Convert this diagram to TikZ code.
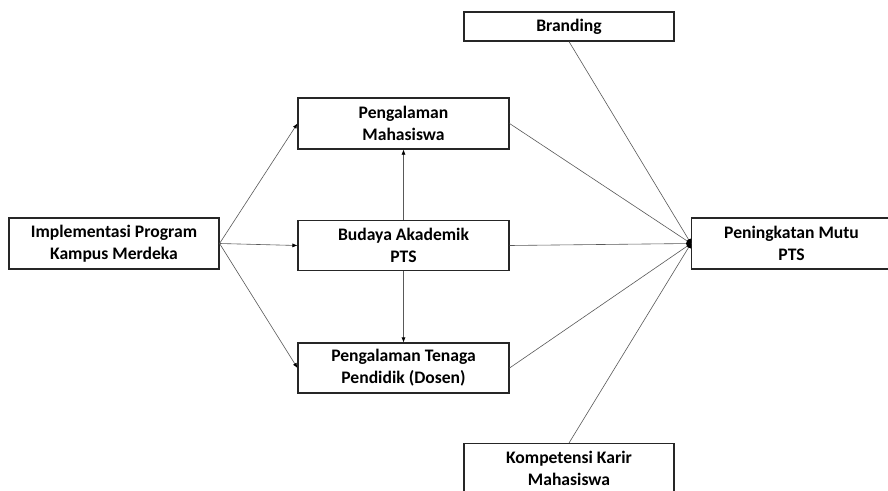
\documentclass[tikz,border=0pt]{standalone}
\usepackage{fontspec}
\setmainfont{Carlito}
\usetikzlibrary{arrows.meta}
\begin{document}
\begin{tikzpicture}[x=1pt,y=-1pt,
  box/.style={draw=black!85,line width=1.1pt,fill=white,inner sep=0pt,
    align=center,font=\bfseries\fontsize{17.6}{22}\selectfont},
  conn/.style={draw=black!65,line width=0.6pt},
  arr/.style={conn,-{Latex[length=5pt,width=4pt,black]}}]
\useasboundingbox (0,0) rectangle (888,490);
\clip (0,0) rectangle (888,490);
\fill[white] (0,0) rectangle (888,490);
\coordinate (hub) at (691,243.5);
\node[box,minimum width=210pt,minimum height=51pt] (imp) at (114,243.5) {Implementasi Program\\Kampus Merdeka};
\node[box,minimum width=211pt,minimum height=51pt] (pm) at (403.5,123.5) {Pengalaman\\Mahasiswa};
\node[box,minimum width=211pt,minimum height=50pt] (bud) at (403.5,245.5) {Budaya Akademik\\PTS};
\node[box,minimum width=211pt,minimum height=50pt] (ptp) at (403.5,368) {Pengalaman Tenaga\\Pendidik (Dosen)};
\node[box,minimum width=200pt,minimum height=51pt,anchor=west] (pmu) at (hub) {Peningkatan Mutu\\PTS};
\node[box,minimum width=210pt,minimum height=29pt] (br) at (569,26.5) {Branding};
\node[box,minimum width=210pt,minimum height=50pt,anchor=north] (kk) at (569,443) {Kompetensi Karir\\Mahasiswa};
% connectors
\draw[arr] (imp.east) -- (pm.west);
\draw[arr] (imp.east) -- (bud.west);
\draw[arr] (imp.east) -- (ptp.west);
\draw[arr] (bud.north) -- (pm.south);
\draw[arr] (bud.south) -- (ptp.north);
\draw[conn] (pm.east) -- (hub);
\draw[conn] (bud.east) -- (hub);
\draw[conn] (ptp.east) -- (hub);
\draw[conn] (br.south) -- (hub);
\draw[conn] (kk.north) -- (hub);
% half dot at hub
\begin{scope}
\clip (pmu.north west) ++(-12,0) rectangle (pmu.south west);
\fill[black] (hub) circle (5pt);
\end{scope}
\end{tikzpicture}
\end{document}
